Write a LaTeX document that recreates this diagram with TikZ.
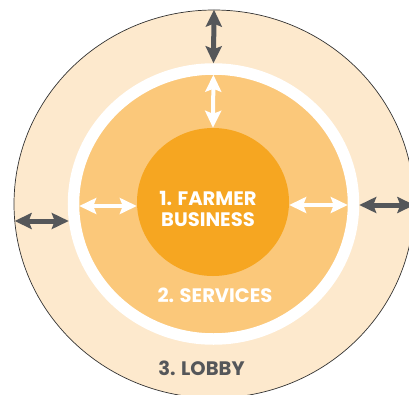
\documentclass[tikz,border=0pt]{standalone}
\usepackage{fontspec}
\newfontfamily\ringfont{Poppins}
\usetikzlibrary{shapes.geometric,arrows.meta,calc}
\definecolor{lobbycol}{RGB}{253,233,205}
\definecolor{servcol}{RGB}{251,200,122}
\definecolor{farmcol}{RGB}{246,166,33}
\definecolor{arrowgrey}{RGB}{85,87,90}
\tikzset{
	disk/.style={ellipse,inner sep=0pt},
	biarrow/.style={{Stealth[length=17pt,width=16pt,inset=3pt]}-{Stealth[length=17pt,width=16pt,inset=3pt]}},
	darkarrow/.style={biarrow,line width=5pt,draw=arrowgrey},
	lightarrow/.style={biarrow,line width=4pt,draw=white},
	ringtext/.style={font=\ringfont\bfseries\fontsize{19.5}{21}\selectfont,align=center,inner sep=0pt}
}

\begin{document}
\begin{tikzpicture}[x=1pt,y=1pt]
	\useasboundingbox (-214,-190) rectangle (195,204);
	\node[disk,minimum width=400pt,minimum height=388pt,fill=lobbycol,draw=black!80,line width=0.7pt] (lobby) at (0,0) {};
	\node[disk,minimum width=280pt,minimum height=270pt,fill=servcol,draw=white,line width=11.5pt] (services) at (-0.5,0) {};
	\node[disk,minimum width=152pt,minimum height=148pt,fill=farmcol] (farmer) at (-1,2) {};
	\node[ringtext,text=white] (farmertxt) at (-6,-4.5) {1. FARMER\\BUSINESS};
	\node[ringtext,text=white] (servtxt) at (1,-91) {2. SERVICES};
	\node[ringtext,text=arrowgrey] (lobbytxt) at (-12.5,-164) {3. LOBBY};
	% outer arrows
	\draw[darkarrow] (lobby.north) -- (services.north);
	\draw[darkarrow] ($(lobby.west)+(1,-17)$) -- ($(services.west)+(1,-17)$);
	\draw[darkarrow] ($(services.east)+(0,-1)$) -- ($(lobby.east)+(0,-1)$);
	% inner arrows
	\draw[lightarrow,shorten <=11.5pt] (services.north) -- (farmer.north);
	\draw[lightarrow] ($(services.west)+(11.5,-2)$) -- ($(farmer.west)+(0,-4)$);
	\draw[lightarrow] ($(farmer.east)+(0,-3)$) -- ($(services.east)+(-11.5,-1)$);
\end{tikzpicture}
\end{document}
